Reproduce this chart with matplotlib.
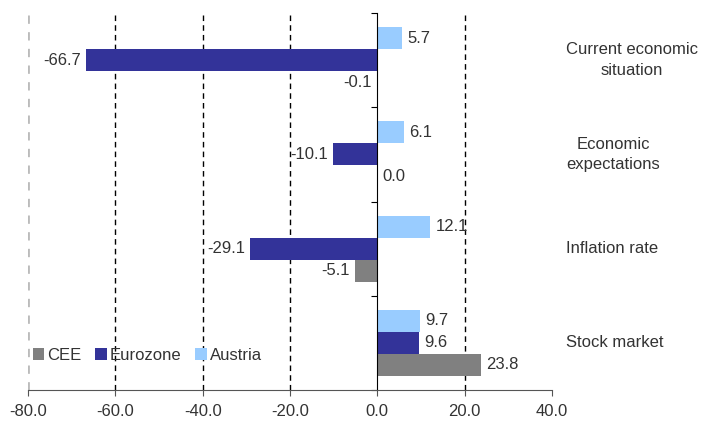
import numpy as np
import matplotlib.pyplot as plt

plt.rcParams['font.family'] = ['Liberation Sans', 'DejaVu Sans']

categories = ["Current economic\nsituation", "Economic\nexpectations", "Inflation rate", "Stock market"]
austria = [5.7, 6.1, 12.1, 9.7]
eurozone = [-66.7, -10.1, -29.1, 9.6]
cee = [-0.1, 0.0, -5.1, 23.8]

col_at = "#99ccff"
col_ez = "#333399"
col_cee = "#808080"
txt = "#333333"
fs = 12

fig = plt.figure(figsize=(7.06, 4.26), dpi=100)
ax = fig.add_axes([28 / 706, 36 / 426, 524 / 706, 377 / 426])

ind = np.arange(len(categories))
h = 0.234

# gridlines first so bars sit on top
for gx in [-60, -40, -20, 20]:
    ax.axvline(gx, color="black", linestyle=(0, (4, 3)), linewidth=1, zorder=0)
ax.axvline(-80, color="#bbbbbb", linestyle=(0, (3, 3)), linewidth=2, zorder=0)

b_cee = ax.barh(ind + h, cee, h, color=col_cee, label="CEE", zorder=2)
b_ez = ax.barh(ind, eurozone, h, color=col_ez, label="Eurozone", zorder=2)
b_at = ax.barh(ind - h, austria, h, color=col_at, label="Austria", zorder=2)

# value labels
for y0, vals in [(ind - h, austria), (ind, eurozone), (ind + h, cee)]:
    for y, v in zip(y0, vals):
        if v < 0:
            ax.text(v - 1.2, y, "%.1f" % v, ha="right", va="center", fontsize=fs, color=txt)
        else:
            ax.text(v + 1.2, y, "%.1f" % v, ha="left", va="center", fontsize=fs, color=txt)

ax.set_xlim(-80, 40)
ax.set_ylim(3.5, -0.5)
ax.set_xticks(np.arange(-80, 41, 20))
ax.set_xticklabels(["%.1f" % t for t in np.arange(-80, 41, 20)], fontsize=fs, color=txt)
ax.set_yticks(np.arange(-0.5, 3.6, 1.0))
ax.set_yticklabels([])

ax.spines["left"].set_position(("data", 0))
ax.spines["right"].set_visible(False)
ax.spines["top"].set_visible(False)
ax.spines["bottom"].set_color("#555555")
ax.tick_params(axis="x", direction="out", length=4, color="#555555", pad=6)
ax.tick_params(axis="y", direction="out", length=4)

# category names on the right
for y, c in zip(ind, categories):
    ax.text(1.0 + 14 / 524, y, c, transform=ax.get_yaxis_transform(), ha="left", va="center",
            multialignment="center", fontsize=fs, color=txt, linespacing=1.45)

ax.legend(handles=[b_cee, b_ez, b_at], loc="lower left", bbox_to_anchor=(-0.02, 0.033),
          ncol=3, frameon=False, fontsize=fs, handlelength=0.7, handleheight=0.7,
          handletextpad=0.2, columnspacing=0.8, labelcolor=txt)

fig.savefig("out.png", dpi=100)
